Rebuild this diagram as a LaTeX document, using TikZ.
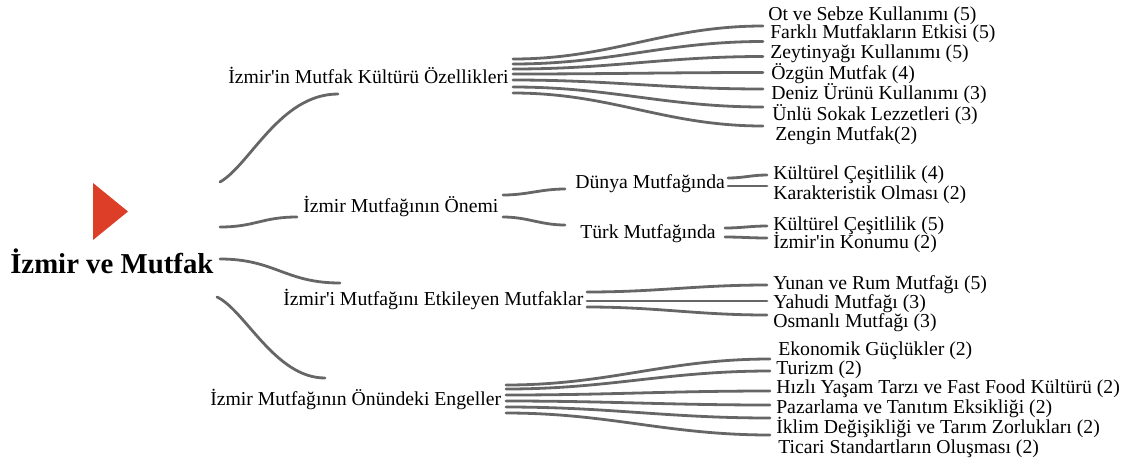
\documentclass[tikz,border=0pt]{standalone}
\usepackage{fontspec}
\setmainfont{Liberation Serif}
\definecolor{linkgray}{RGB}{102,102,102}
\definecolor{markred}{RGB}{220,62,40}
\tikzset{
  lbl/.style={anchor=base west, inner sep=0pt, font=\fontsize{14.8}{16}\selectfont},
  ttl/.style={anchor=base west, inner sep=0pt, font=\bfseries\fontsize{21.6}{24}\selectfont},
  branch/.style={draw=linkgray, line width=2.1pt, line cap=round},
}
\begin{document}
\begin{tikzpicture}[x=0.75pt,y=-0.75pt]
\useasboundingbox (0,0) rectangle (1124,465);

% root
\node[ttl] (root) at (10,273) {İzmir ve Mutfak};
\fill[markred] (93,183) -- (93,240) -- (128,211.5) -- cycle;

% main topics
\node[lbl] (k1) at (228,83) {İzmir\textquotesingle in Mutfak Kültürü Özellikleri};
\node[lbl] (k2) at (303,212) {İzmir Mutfağının Önemi};
\node[lbl] (k3) at (283,305) {İzmir\textquotesingle i Mutfağını Etkileyen Mutfaklar};
\node[lbl] (k4) at (210,405) {İzmir Mutfağının Önündeki Engeller};

% root branches
\coordinate (r1s) at (220,182); \coordinate (r1e) at (338,94);
\coordinate (r2s) at (220,227); \coordinate (r2e) at (297,217);
\coordinate (r3s) at (220,259); \coordinate (r3e) at (340,283);
\coordinate (r4s) at (217,297); \coordinate (r4e) at (325,378);
\draw[branch] (r1s) .. controls (250,165) and (280,94) .. (r1e);
\draw[branch] (r2s) .. controls (255,227) and (262,217) .. (r2e);
\draw[branch] (r3s) .. controls (275,259) and (285,283) .. (r3e);
\draw[branch] (r4s) .. controls (245,310) and (275,378) .. (r4e);

% culture features
\node[lbl] (a1) at (768,20)   {Ot ve Sebze Kullanımı (5)};
\node[lbl] (a2) at (770,38.5) {Farklı Mutfakların Etkisi (5)};
\node[lbl] (a3) at (770,58)   {Zeytinyağı Kullanımı (5)};
\node[lbl] (a4) at (771,79)   {Özgün Mutfak (4)};
\node[lbl] (a5) at (771,99.5) {Deniz Ürünü Kullanımı (3)};
\node[lbl] (a6) at (772,120)  {Ünlü Sokak Lezzetleri (3)};
\node[lbl] (a7) at (775,140)  {Zengin Mutfak(2)};
\foreach \n/\ys/\ye in {1/59/26, 2/64/41.5, 3/69/56.5, 4/74/72.5, 5/80/89, 6/87/107, 7/93/126} {
  \coordinate (a\n s) at (513,\ys);
  \coordinate (a\n e) at (763,\ye);
  \draw[branch] (a\n s) to[out=0,in=180] (a\n e);
}

% importance
\node[lbl] (d1) at (575,188) {Dünya Mutfağında};
\node[lbl] (d2) at (580,238) {Türk Mutfağında};
\coordinate (b1s) at (503,195); \coordinate (b1e) at (565,189);
\coordinate (b2s) at (503,217); \coordinate (b2e) at (565,225);
\draw[branch] (b1s) to[out=0,in=180] (b1e);
\draw[branch] (b2s) to[out=0,in=180] (b2e);

\node[lbl] (d11) at (773,179) {Kültürel Çeşitlilik (4)};
\node[lbl] (d12) at (773,199) {Karakteristik Olması (2)};
\node[lbl] (d21) at (773,230) {Kültürel Çeşitlilik (5)};
\node[lbl] (d22) at (773,248) {İzmir\textquotesingle in Konumu (2)};
\coordinate (c1s) at (728,178); \coordinate (c1e) at (767,175);
\coordinate (c2s) at (728,186); \coordinate (c2e) at (767,186);
\coordinate (c3s) at (725,228); \coordinate (c3e) at (767,226);
\coordinate (c4s) at (725,237); \coordinate (c4e) at (767,238);
\foreach \n in {1,...,4} {
  \draw[branch] (c\n s) to[out=0,in=180] (c\n e);
}

% influencing cuisines
\node[lbl] (e1) at (773,289) {Yunan ve Rum Mutfağı (5)};
\node[lbl] (e2) at (773,308) {Yahudi Mutfağı (3)};
\node[lbl] (e3) at (773,327) {Osmanlı Mutfağı (3)};
\foreach \n/\ys/\ye in {1/292/285, 2/301/301, 3/307/315} {
  \coordinate (e\n s) at (587,\ys);
  \coordinate (e\n e) at (767,\ye);
  \draw[branch] (e\n s) to[out=0,in=180] (e\n e);
}

% obstacles
\node[lbl] (f1) at (778,355) {Ekonomik Güçlükler (2)};
\node[lbl] (f2) at (776,374) {Turizm (2)};
\node[lbl] (f3) at (776,393) {Hızlı Yaşam Tarzı ve Fast Food Kültürü (2)};
\node[lbl] (f4) at (776,413) {Pazarlama ve Tanıtım Eksikliği (2)};
\node[lbl] (f5) at (776,433) {İklim Değişikliği ve Tarım Zorlukları (2)};
\node[lbl] (f6) at (778,453) {Ticari Standartların Oluşması (2)};
\foreach \n/\ys/\ye in {1/385/359, 2/389/371, 3/395/391, 4/401/405, 5/407/418, 6/413/435} {
  \coordinate (f\n s) at (506,\ys);
  \coordinate (f\n e) at (770,\ye);
  \draw[branch] (f\n s) to[out=0,in=180] (f\n e);
}
\end{tikzpicture}
\end{document}
